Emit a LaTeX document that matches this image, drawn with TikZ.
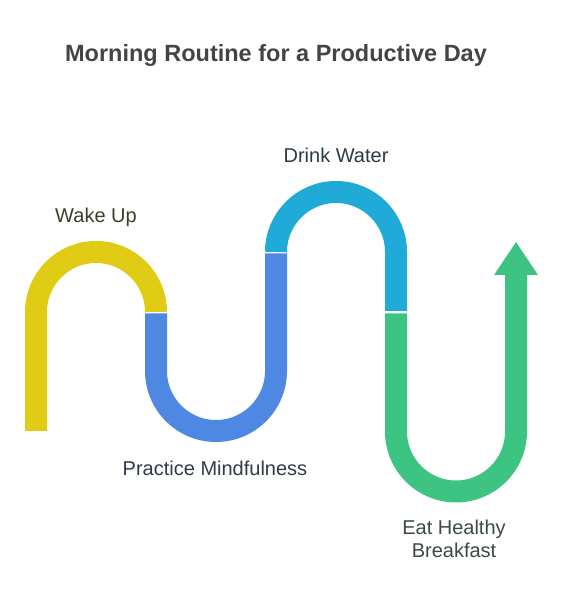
\documentclass[tikz,border=0pt]{standalone}
\usepackage{fontspec}
\setmainfont{Liberation Sans}
\definecolor{wakeyellow}{HTML}{E0CB15}
\definecolor{mindblue}{HTML}{4F88E3}
\definecolor{watercyan}{HTML}{20AAD8}
\definecolor{mealgreen}{HTML}{3EC482}
\definecolor{titlegray}{HTML}{444444}
\definecolor{waketext}{HTML}{3F3D2A}
\definecolor{mindtext}{HTML}{2F3A4A}
\definecolor{watertext}{HTML}{2C3B44}
\definecolor{mealtext}{HTML}{3B4A42}

\begin{document}
\begin{tikzpicture}[x=1pt,y=1pt,
    band/.style={line width=22pt,line cap=butt},
    steplabel/.style={anchor=base,inner sep=0pt,font=\fontsize{20}{23}\selectfont,align=center}]
\useasboundingbox (0,0) rectangle (564,613);
\node[anchor=base,inner sep=0pt,text=titlegray,font=\fontsize{23.5}{28}\selectfont\bfseries] (title) at (276,551) {Morning Routine for a Productive Day};

\coordinate (wake) at (36,182);
\coordinate (mind) at (156,299.5);
\coordinate (water) at (276,361);
\coordinate (meal) at (396,299.5);
\coordinate (goal) at (516,338);

\draw[band,wakeyellow] (wake) -- ++(0,119) arc[start angle=180,end angle=0,radius=60];
\draw[band,mindblue] (mind) -- ++(0,-57.5) arc[start angle=180,end angle=360,radius=60] -- ++(0,117.5);
\draw[band,watercyan] (water) arc[start angle=180,end angle=0,radius=60] -- ++(0,-59);
\draw[band,mealgreen] (meal) -- ++(0,-118) arc[start angle=180,end angle=360,radius=60] -- (goal);
\fill[mealgreen] ([xshift=-22pt]goal) -- ([xshift=22pt]goal) -- ([yshift=33pt]goal) -- cycle;

\node[steplabel,text=waketext] (wakelabel) at (96,390) {Wake Up};
\node[steplabel,text=mindtext] (mindlabel) at (215,137) {Practice Mindfulness};
\node[steplabel,text=watertext] (waterlabel) at (336,450) {Drink Water};
\node[steplabel,text=mealtext] (meallabel) at (454,78) {Eat Healthy};
\node[steplabel,text=mealtext] (meallabel2) at (454,55) {Breakfast};
\end{tikzpicture}
\end{document}
